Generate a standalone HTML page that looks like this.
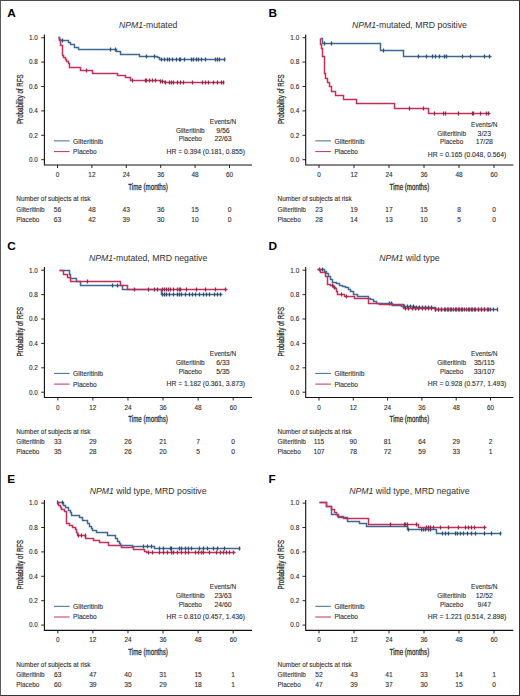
<!DOCTYPE html>
<html><head><meta charset="utf-8"><style>
html,body{margin:0;padding:0;background:#fff;}
body{width:520px;height:696px;overflow:hidden;position:relative;}
svg{position:absolute;left:0;top:0;font-family:"Liberation Sans",sans-serif;}
text{stroke:#333;stroke-width:0.1;}
text.hv{stroke-width:0.3;}
text.lt{stroke:none;}
.frame{position:absolute;left:0;top:0;width:520px;height:696px;box-sizing:border-box;border-top:1px solid #4a4a4a;border-left:1px solid #5a5a5a;border-right:1px solid #333;border-bottom:1px solid #333;}
</style></head><body>
<svg width="520" height="696" viewBox="0 0 520 696">
<rect x="0" y="0" width="520" height="696" fill="#fff"/>
<text x="7.20" y="17.40" font-size="11.8" text-anchor="start" font-weight="bold" class="lt" fill="#000">A</text>
<text x="148.10" y="28.40" font-size="8.7" text-anchor="middle" class="lt" fill="#303030"><tspan font-style="italic">NPM1</tspan>-mutated</text>
<text transform="translate(22.90,99.20) rotate(-90)" font-size="8.2" text-anchor="middle" textLength="49.6" lengthAdjust="spacingAndGlyphs" class="hv" fill="#2a2a2a">Probability of RFS</text>
<path d="M44.40,34.50 V165.00 H252.00" fill="none" stroke="#111" stroke-width="1.1"/>
<text x="37.90" y="162.00" font-size="6.4" text-anchor="end" fill="#2a2a2a">0.0</text>
<text x="37.90" y="137.60" font-size="6.4" text-anchor="end" fill="#2a2a2a">0.2</text>
<text x="37.90" y="113.20" font-size="6.4" text-anchor="end" fill="#2a2a2a">0.4</text>
<text x="37.90" y="88.80" font-size="6.4" text-anchor="end" fill="#2a2a2a">0.6</text>
<text x="37.90" y="64.40" font-size="6.4" text-anchor="end" fill="#2a2a2a">0.8</text>
<text x="37.90" y="40.00" font-size="6.4" text-anchor="end" fill="#2a2a2a">1.0</text>
<text x="57.50" y="177.00" font-size="6.4" text-anchor="middle" fill="#2a2a2a">0</text>
<text x="91.90" y="177.00" font-size="6.4" text-anchor="middle" fill="#2a2a2a">12</text>
<text x="126.30" y="177.00" font-size="6.4" text-anchor="middle" fill="#2a2a2a">24</text>
<text x="160.70" y="177.00" font-size="6.4" text-anchor="middle" fill="#2a2a2a">36</text>
<text x="195.10" y="177.00" font-size="6.4" text-anchor="middle" fill="#2a2a2a">48</text>
<text x="229.50" y="177.00" font-size="6.4" text-anchor="middle" fill="#2a2a2a">60</text>
<path d="M41.20,159.70 H44.40 M41.20,135.30 H44.40 M41.20,110.90 H44.40 M41.20,86.50 H44.40 M41.20,62.10 H44.40 M41.20,37.70 H44.40 M57.50,165.00 V168.00 M91.90,165.00 V168.00 M126.30,165.00 V168.00 M160.70,165.00 V168.00 M195.10,165.00 V168.00 M229.50,165.00 V168.00 " fill="none" stroke="#111" stroke-width="0.9"/>
<text x="148.10" y="189.80" font-size="8.7" text-anchor="middle" textLength="39.6" lengthAdjust="spacingAndGlyphs" class="hv" fill="#2a2a2a">Time (months)</text>
<path d="M54.00,140.90 H69.60" stroke="#3d6894" stroke-width="1"/>
<path d="M54.00,151.60 H69.60" stroke="#c2305a" stroke-width="1"/>
<text x="73.10" y="143.50" font-size="6.9" text-anchor="start" textLength="30.0" lengthAdjust="spacingAndGlyphs" fill="#2a2a2a">Gilteritinib</text>
<text x="73.10" y="154.00" font-size="6.9" text-anchor="start" textLength="23.6" lengthAdjust="spacingAndGlyphs" fill="#2a2a2a">Placebo</text>
<text x="223.00" y="123.70" font-size="6.9" text-anchor="middle" textLength="26.4" lengthAdjust="spacingAndGlyphs" fill="#2a2a2a">Events/N</text>
<text x="190.30" y="132.70" font-size="6.9" text-anchor="middle" textLength="28.8" lengthAdjust="spacingAndGlyphs" fill="#2a2a2a">Gilteritinib</text>
<text x="190.30" y="141.40" font-size="6.9" text-anchor="middle" textLength="23.2" lengthAdjust="spacingAndGlyphs" fill="#2a2a2a">Placebo</text>
<text x="223.00" y="132.70" font-size="6.9" text-anchor="middle" fill="#2a2a2a">9/56</text>
<text x="223.00" y="141.40" font-size="6.9" text-anchor="middle" fill="#2a2a2a">22/63</text>
<text x="205.80" y="153.50" font-size="6.9" text-anchor="middle" textLength="78.5" lengthAdjust="spacingAndGlyphs" fill="#2a2a2a">HR = 0.394 (0.181, 0.855)</text>
<text x="16.30" y="201.20" font-size="6.7" text-anchor="start" textLength="74.1" lengthAdjust="spacingAndGlyphs" fill="#2a2a2a">Number of subjects at risk</text>
<text x="16.30" y="211.60" font-size="6.7" text-anchor="start" textLength="28.3" lengthAdjust="spacingAndGlyphs" fill="#2a2a2a">Gilteritinib</text>
<text x="16.30" y="221.80" font-size="6.7" text-anchor="start" textLength="23.1" lengthAdjust="spacingAndGlyphs" fill="#2a2a2a">Placebo</text>
<text x="57.50" y="211.60" font-size="6.7" text-anchor="middle" fill="#2a2a2a">56</text>
<text x="57.50" y="221.80" font-size="6.7" text-anchor="middle" fill="#2a2a2a">63</text>
<text x="91.90" y="211.60" font-size="6.7" text-anchor="middle" fill="#2a2a2a">48</text>
<text x="91.90" y="221.80" font-size="6.7" text-anchor="middle" fill="#2a2a2a">42</text>
<text x="126.30" y="211.60" font-size="6.7" text-anchor="middle" fill="#2a2a2a">43</text>
<text x="126.30" y="221.80" font-size="6.7" text-anchor="middle" fill="#2a2a2a">39</text>
<text x="160.70" y="211.60" font-size="6.7" text-anchor="middle" fill="#2a2a2a">36</text>
<text x="160.70" y="221.80" font-size="6.7" text-anchor="middle" fill="#2a2a2a">30</text>
<text x="195.10" y="211.60" font-size="6.7" text-anchor="middle" fill="#2a2a2a">15</text>
<text x="195.10" y="221.80" font-size="6.7" text-anchor="middle" fill="#2a2a2a">10</text>
<text x="229.50" y="211.60" font-size="6.7" text-anchor="middle" fill="#2a2a2a">0</text>
<text x="229.50" y="221.80" font-size="6.7" text-anchor="middle" fill="#2a2a2a">0</text>
<text x="268.50" y="17.40" font-size="11.8" text-anchor="start" font-weight="bold" class="lt" fill="#000">B</text>
<text x="409.40" y="28.40" font-size="8.7" text-anchor="middle" class="lt" fill="#303030"><tspan font-style="italic">NPM1</tspan>-mutated, MRD positive</text>
<text transform="translate(284.20,99.20) rotate(-90)" font-size="8.2" text-anchor="middle" textLength="49.6" lengthAdjust="spacingAndGlyphs" class="hv" fill="#2a2a2a">Probability of RFS</text>
<path d="M305.70,34.50 V165.00 H513.30" fill="none" stroke="#111" stroke-width="1.1"/>
<text x="299.20" y="162.00" font-size="6.4" text-anchor="end" fill="#2a2a2a">0.0</text>
<text x="299.20" y="137.60" font-size="6.4" text-anchor="end" fill="#2a2a2a">0.2</text>
<text x="299.20" y="113.20" font-size="6.4" text-anchor="end" fill="#2a2a2a">0.4</text>
<text x="299.20" y="88.80" font-size="6.4" text-anchor="end" fill="#2a2a2a">0.6</text>
<text x="299.20" y="64.40" font-size="6.4" text-anchor="end" fill="#2a2a2a">0.8</text>
<text x="299.20" y="40.00" font-size="6.4" text-anchor="end" fill="#2a2a2a">1.0</text>
<text x="319.00" y="177.00" font-size="6.4" text-anchor="middle" fill="#2a2a2a">0</text>
<text x="354.00" y="177.00" font-size="6.4" text-anchor="middle" fill="#2a2a2a">12</text>
<text x="389.00" y="177.00" font-size="6.4" text-anchor="middle" fill="#2a2a2a">24</text>
<text x="424.00" y="177.00" font-size="6.4" text-anchor="middle" fill="#2a2a2a">36</text>
<text x="459.00" y="177.00" font-size="6.4" text-anchor="middle" fill="#2a2a2a">48</text>
<text x="494.00" y="177.00" font-size="6.4" text-anchor="middle" fill="#2a2a2a">60</text>
<path d="M302.50,159.70 H305.70 M302.50,135.30 H305.70 M302.50,110.90 H305.70 M302.50,86.50 H305.70 M302.50,62.10 H305.70 M302.50,37.70 H305.70 M319.00,165.00 V168.00 M354.00,165.00 V168.00 M389.00,165.00 V168.00 M424.00,165.00 V168.00 M459.00,165.00 V168.00 M494.00,165.00 V168.00 " fill="none" stroke="#111" stroke-width="0.9"/>
<text x="409.40" y="189.80" font-size="8.7" text-anchor="middle" textLength="39.6" lengthAdjust="spacingAndGlyphs" class="hv" fill="#2a2a2a">Time (months)</text>
<path d="M315.30,140.90 H330.90" stroke="#3d6894" stroke-width="1"/>
<path d="M315.30,151.60 H330.90" stroke="#c2305a" stroke-width="1"/>
<text x="334.40" y="143.50" font-size="6.9" text-anchor="start" textLength="30.0" lengthAdjust="spacingAndGlyphs" fill="#2a2a2a">Gilteritinib</text>
<text x="334.40" y="154.00" font-size="6.9" text-anchor="start" textLength="23.6" lengthAdjust="spacingAndGlyphs" fill="#2a2a2a">Placebo</text>
<text x="484.30" y="126.70" font-size="6.9" text-anchor="middle" textLength="26.4" lengthAdjust="spacingAndGlyphs" fill="#2a2a2a">Events/N</text>
<text x="451.60" y="135.70" font-size="6.9" text-anchor="middle" textLength="28.8" lengthAdjust="spacingAndGlyphs" fill="#2a2a2a">Gilteritinib</text>
<text x="451.60" y="144.40" font-size="6.9" text-anchor="middle" textLength="23.2" lengthAdjust="spacingAndGlyphs" fill="#2a2a2a">Placebo</text>
<text x="484.30" y="135.70" font-size="6.9" text-anchor="middle" fill="#2a2a2a">3/23</text>
<text x="484.30" y="144.40" font-size="6.9" text-anchor="middle" fill="#2a2a2a">17/28</text>
<text x="467.10" y="156.50" font-size="6.9" text-anchor="middle" textLength="78.5" lengthAdjust="spacingAndGlyphs" fill="#2a2a2a">HR = 0.165 (0.048, 0.564)</text>
<text x="277.60" y="201.20" font-size="6.7" text-anchor="start" textLength="74.1" lengthAdjust="spacingAndGlyphs" fill="#2a2a2a">Number of subjects at risk</text>
<text x="277.60" y="211.60" font-size="6.7" text-anchor="start" textLength="28.3" lengthAdjust="spacingAndGlyphs" fill="#2a2a2a">Gilteritinib</text>
<text x="277.60" y="221.80" font-size="6.7" text-anchor="start" textLength="23.1" lengthAdjust="spacingAndGlyphs" fill="#2a2a2a">Placebo</text>
<text x="319.00" y="211.60" font-size="6.7" text-anchor="middle" fill="#2a2a2a">23</text>
<text x="319.00" y="221.80" font-size="6.7" text-anchor="middle" fill="#2a2a2a">28</text>
<text x="354.00" y="211.60" font-size="6.7" text-anchor="middle" fill="#2a2a2a">19</text>
<text x="354.00" y="221.80" font-size="6.7" text-anchor="middle" fill="#2a2a2a">14</text>
<text x="389.00" y="211.60" font-size="6.7" text-anchor="middle" fill="#2a2a2a">17</text>
<text x="389.00" y="221.80" font-size="6.7" text-anchor="middle" fill="#2a2a2a">13</text>
<text x="424.00" y="211.60" font-size="6.7" text-anchor="middle" fill="#2a2a2a">15</text>
<text x="424.00" y="221.80" font-size="6.7" text-anchor="middle" fill="#2a2a2a">10</text>
<text x="459.00" y="211.60" font-size="6.7" text-anchor="middle" fill="#2a2a2a">8</text>
<text x="459.00" y="221.80" font-size="6.7" text-anchor="middle" fill="#2a2a2a">5</text>
<text x="494.00" y="211.60" font-size="6.7" text-anchor="middle" fill="#2a2a2a">0</text>
<text x="494.00" y="221.80" font-size="6.7" text-anchor="middle" fill="#2a2a2a">0</text>
<text x="7.20" y="249.90" font-size="11.8" text-anchor="start" font-weight="bold" class="lt" fill="#000">C</text>
<text x="148.10" y="260.90" font-size="8.7" text-anchor="middle" class="lt" fill="#303030"><tspan font-style="italic">NPM1</tspan>-mutated, MRD negative</text>
<text transform="translate(22.90,331.70) rotate(-90)" font-size="8.2" text-anchor="middle" textLength="49.6" lengthAdjust="spacingAndGlyphs" class="hv" fill="#2a2a2a">Probability of RFS</text>
<path d="M44.40,267.00 V397.50 H252.00" fill="none" stroke="#111" stroke-width="1.1"/>
<text x="37.90" y="394.50" font-size="6.4" text-anchor="end" fill="#2a2a2a">0.0</text>
<text x="37.90" y="370.10" font-size="6.4" text-anchor="end" fill="#2a2a2a">0.2</text>
<text x="37.90" y="345.70" font-size="6.4" text-anchor="end" fill="#2a2a2a">0.4</text>
<text x="37.90" y="321.30" font-size="6.4" text-anchor="end" fill="#2a2a2a">0.6</text>
<text x="37.90" y="296.90" font-size="6.4" text-anchor="end" fill="#2a2a2a">0.8</text>
<text x="37.90" y="272.50" font-size="6.4" text-anchor="end" fill="#2a2a2a">1.0</text>
<text x="57.80" y="409.50" font-size="6.4" text-anchor="middle" fill="#2a2a2a">0</text>
<text x="92.88" y="409.50" font-size="6.4" text-anchor="middle" fill="#2a2a2a">12</text>
<text x="127.96" y="409.50" font-size="6.4" text-anchor="middle" fill="#2a2a2a">24</text>
<text x="163.04" y="409.50" font-size="6.4" text-anchor="middle" fill="#2a2a2a">36</text>
<text x="198.12" y="409.50" font-size="6.4" text-anchor="middle" fill="#2a2a2a">48</text>
<text x="233.20" y="409.50" font-size="6.4" text-anchor="middle" fill="#2a2a2a">60</text>
<path d="M41.20,392.20 H44.40 M41.20,367.80 H44.40 M41.20,343.40 H44.40 M41.20,319.00 H44.40 M41.20,294.60 H44.40 M41.20,270.20 H44.40 M57.80,397.50 V400.50 M92.88,397.50 V400.50 M127.96,397.50 V400.50 M163.04,397.50 V400.50 M198.12,397.50 V400.50 M233.20,397.50 V400.50 " fill="none" stroke="#111" stroke-width="0.9"/>
<text x="148.10" y="422.30" font-size="8.7" text-anchor="middle" textLength="39.6" lengthAdjust="spacingAndGlyphs" class="hv" fill="#2a2a2a">Time (months)</text>
<path d="M54.00,373.40 H69.60" stroke="#3d6894" stroke-width="1"/>
<path d="M54.00,384.10 H69.60" stroke="#c2305a" stroke-width="1"/>
<text x="73.10" y="376.00" font-size="6.9" text-anchor="start" textLength="30.0" lengthAdjust="spacingAndGlyphs" fill="#2a2a2a">Gilteritinib</text>
<text x="73.10" y="386.50" font-size="6.9" text-anchor="start" textLength="23.6" lengthAdjust="spacingAndGlyphs" fill="#2a2a2a">Placebo</text>
<text x="223.00" y="356.20" font-size="6.9" text-anchor="middle" textLength="26.4" lengthAdjust="spacingAndGlyphs" fill="#2a2a2a">Events/N</text>
<text x="190.30" y="365.20" font-size="6.9" text-anchor="middle" textLength="28.8" lengthAdjust="spacingAndGlyphs" fill="#2a2a2a">Gilteritinib</text>
<text x="190.30" y="373.90" font-size="6.9" text-anchor="middle" textLength="23.2" lengthAdjust="spacingAndGlyphs" fill="#2a2a2a">Placebo</text>
<text x="223.00" y="365.20" font-size="6.9" text-anchor="middle" fill="#2a2a2a">6/33</text>
<text x="223.00" y="373.90" font-size="6.9" text-anchor="middle" fill="#2a2a2a">5/35</text>
<text x="205.80" y="386.00" font-size="6.9" text-anchor="middle" textLength="78.5" lengthAdjust="spacingAndGlyphs" fill="#2a2a2a">HR = 1.182 (0.361, 3.873)</text>
<text x="16.30" y="433.70" font-size="6.7" text-anchor="start" textLength="74.1" lengthAdjust="spacingAndGlyphs" fill="#2a2a2a">Number of subjects at risk</text>
<text x="16.30" y="444.10" font-size="6.7" text-anchor="start" textLength="28.3" lengthAdjust="spacingAndGlyphs" fill="#2a2a2a">Gilteritinib</text>
<text x="16.30" y="454.30" font-size="6.7" text-anchor="start" textLength="23.1" lengthAdjust="spacingAndGlyphs" fill="#2a2a2a">Placebo</text>
<text x="57.80" y="444.10" font-size="6.7" text-anchor="middle" fill="#2a2a2a">33</text>
<text x="57.80" y="454.30" font-size="6.7" text-anchor="middle" fill="#2a2a2a">35</text>
<text x="92.88" y="444.10" font-size="6.7" text-anchor="middle" fill="#2a2a2a">29</text>
<text x="92.88" y="454.30" font-size="6.7" text-anchor="middle" fill="#2a2a2a">28</text>
<text x="127.96" y="444.10" font-size="6.7" text-anchor="middle" fill="#2a2a2a">26</text>
<text x="127.96" y="454.30" font-size="6.7" text-anchor="middle" fill="#2a2a2a">26</text>
<text x="163.04" y="444.10" font-size="6.7" text-anchor="middle" fill="#2a2a2a">21</text>
<text x="163.04" y="454.30" font-size="6.7" text-anchor="middle" fill="#2a2a2a">20</text>
<text x="198.12" y="444.10" font-size="6.7" text-anchor="middle" fill="#2a2a2a">7</text>
<text x="198.12" y="454.30" font-size="6.7" text-anchor="middle" fill="#2a2a2a">5</text>
<text x="233.20" y="444.10" font-size="6.7" text-anchor="middle" fill="#2a2a2a">0</text>
<text x="233.20" y="454.30" font-size="6.7" text-anchor="middle" fill="#2a2a2a">0</text>
<text x="268.50" y="249.90" font-size="11.8" text-anchor="start" font-weight="bold" class="lt" fill="#000">D</text>
<text x="409.40" y="260.90" font-size="8.7" text-anchor="middle" class="lt" fill="#303030"><tspan font-style="italic">NPM1</tspan> wild type</text>
<text transform="translate(284.20,331.70) rotate(-90)" font-size="8.2" text-anchor="middle" textLength="49.6" lengthAdjust="spacingAndGlyphs" class="hv" fill="#2a2a2a">Probability of RFS</text>
<path d="M305.70,267.00 V397.50 H513.30" fill="none" stroke="#111" stroke-width="1.1"/>
<text x="299.20" y="394.50" font-size="6.4" text-anchor="end" fill="#2a2a2a">0.0</text>
<text x="299.20" y="370.10" font-size="6.4" text-anchor="end" fill="#2a2a2a">0.2</text>
<text x="299.20" y="345.70" font-size="6.4" text-anchor="end" fill="#2a2a2a">0.4</text>
<text x="299.20" y="321.30" font-size="6.4" text-anchor="end" fill="#2a2a2a">0.6</text>
<text x="299.20" y="296.90" font-size="6.4" text-anchor="end" fill="#2a2a2a">0.8</text>
<text x="299.20" y="272.50" font-size="6.4" text-anchor="end" fill="#2a2a2a">1.0</text>
<text x="319.00" y="409.50" font-size="6.4" text-anchor="middle" fill="#2a2a2a">0</text>
<text x="353.30" y="409.50" font-size="6.4" text-anchor="middle" fill="#2a2a2a">12</text>
<text x="387.60" y="409.50" font-size="6.4" text-anchor="middle" fill="#2a2a2a">24</text>
<text x="421.90" y="409.50" font-size="6.4" text-anchor="middle" fill="#2a2a2a">36</text>
<text x="456.20" y="409.50" font-size="6.4" text-anchor="middle" fill="#2a2a2a">48</text>
<text x="490.50" y="409.50" font-size="6.4" text-anchor="middle" fill="#2a2a2a">60</text>
<path d="M302.50,392.20 H305.70 M302.50,367.80 H305.70 M302.50,343.40 H305.70 M302.50,319.00 H305.70 M302.50,294.60 H305.70 M302.50,270.20 H305.70 M319.00,397.50 V400.50 M353.30,397.50 V400.50 M387.60,397.50 V400.50 M421.90,397.50 V400.50 M456.20,397.50 V400.50 M490.50,397.50 V400.50 " fill="none" stroke="#111" stroke-width="0.9"/>
<text x="409.40" y="422.30" font-size="8.7" text-anchor="middle" textLength="39.6" lengthAdjust="spacingAndGlyphs" class="hv" fill="#2a2a2a">Time (months)</text>
<path d="M315.30,373.40 H330.90" stroke="#3d6894" stroke-width="1"/>
<path d="M315.30,384.10 H330.90" stroke="#c2305a" stroke-width="1"/>
<text x="334.40" y="376.00" font-size="6.9" text-anchor="start" textLength="30.0" lengthAdjust="spacingAndGlyphs" fill="#2a2a2a">Gilteritinib</text>
<text x="334.40" y="386.50" font-size="6.9" text-anchor="start" textLength="23.6" lengthAdjust="spacingAndGlyphs" fill="#2a2a2a">Placebo</text>
<text x="484.30" y="356.20" font-size="6.9" text-anchor="middle" textLength="26.4" lengthAdjust="spacingAndGlyphs" fill="#2a2a2a">Events/N</text>
<text x="451.60" y="365.20" font-size="6.9" text-anchor="middle" textLength="28.8" lengthAdjust="spacingAndGlyphs" fill="#2a2a2a">Gilteritinib</text>
<text x="451.60" y="373.90" font-size="6.9" text-anchor="middle" textLength="23.2" lengthAdjust="spacingAndGlyphs" fill="#2a2a2a">Placebo</text>
<text x="484.30" y="365.20" font-size="6.9" text-anchor="middle" fill="#2a2a2a">35/115</text>
<text x="484.30" y="373.90" font-size="6.9" text-anchor="middle" fill="#2a2a2a">33/107</text>
<text x="467.10" y="386.00" font-size="6.9" text-anchor="middle" textLength="78.5" lengthAdjust="spacingAndGlyphs" fill="#2a2a2a">HR = 0.928 (0.577, 1.493)</text>
<text x="277.60" y="433.70" font-size="6.7" text-anchor="start" textLength="74.1" lengthAdjust="spacingAndGlyphs" fill="#2a2a2a">Number of subjects at risk</text>
<text x="277.60" y="444.10" font-size="6.7" text-anchor="start" textLength="28.3" lengthAdjust="spacingAndGlyphs" fill="#2a2a2a">Gilteritinib</text>
<text x="277.60" y="454.30" font-size="6.7" text-anchor="start" textLength="23.1" lengthAdjust="spacingAndGlyphs" fill="#2a2a2a">Placebo</text>
<text x="319.00" y="444.10" font-size="6.7" text-anchor="middle" fill="#2a2a2a">115</text>
<text x="319.00" y="454.30" font-size="6.7" text-anchor="middle" fill="#2a2a2a">107</text>
<text x="353.30" y="444.10" font-size="6.7" text-anchor="middle" fill="#2a2a2a">90</text>
<text x="353.30" y="454.30" font-size="6.7" text-anchor="middle" fill="#2a2a2a">78</text>
<text x="387.60" y="444.10" font-size="6.7" text-anchor="middle" fill="#2a2a2a">81</text>
<text x="387.60" y="454.30" font-size="6.7" text-anchor="middle" fill="#2a2a2a">72</text>
<text x="421.90" y="444.10" font-size="6.7" text-anchor="middle" fill="#2a2a2a">64</text>
<text x="421.90" y="454.30" font-size="6.7" text-anchor="middle" fill="#2a2a2a">59</text>
<text x="456.20" y="444.10" font-size="6.7" text-anchor="middle" fill="#2a2a2a">29</text>
<text x="456.20" y="454.30" font-size="6.7" text-anchor="middle" fill="#2a2a2a">33</text>
<text x="490.50" y="444.10" font-size="6.7" text-anchor="middle" fill="#2a2a2a">2</text>
<text x="490.50" y="454.30" font-size="6.7" text-anchor="middle" fill="#2a2a2a">1</text>
<text x="7.20" y="482.80" font-size="11.8" text-anchor="start" font-weight="bold" class="lt" fill="#000">E</text>
<text x="148.10" y="493.80" font-size="8.7" text-anchor="middle" class="lt" fill="#303030"><tspan font-style="italic">NPM1</tspan> wild type, MRD positive</text>
<text transform="translate(22.90,564.60) rotate(-90)" font-size="8.2" text-anchor="middle" textLength="49.6" lengthAdjust="spacingAndGlyphs" class="hv" fill="#2a2a2a">Probability of RFS</text>
<path d="M44.40,499.90 V630.40 H252.00" fill="none" stroke="#111" stroke-width="1.1"/>
<text x="37.90" y="627.40" font-size="6.4" text-anchor="end" fill="#2a2a2a">0.0</text>
<text x="37.90" y="603.00" font-size="6.4" text-anchor="end" fill="#2a2a2a">0.2</text>
<text x="37.90" y="578.60" font-size="6.4" text-anchor="end" fill="#2a2a2a">0.4</text>
<text x="37.90" y="554.20" font-size="6.4" text-anchor="end" fill="#2a2a2a">0.6</text>
<text x="37.90" y="529.80" font-size="6.4" text-anchor="end" fill="#2a2a2a">0.8</text>
<text x="37.90" y="505.40" font-size="6.4" text-anchor="end" fill="#2a2a2a">1.0</text>
<text x="57.80" y="642.40" font-size="6.4" text-anchor="middle" fill="#2a2a2a">0</text>
<text x="92.88" y="642.40" font-size="6.4" text-anchor="middle" fill="#2a2a2a">12</text>
<text x="127.96" y="642.40" font-size="6.4" text-anchor="middle" fill="#2a2a2a">24</text>
<text x="163.04" y="642.40" font-size="6.4" text-anchor="middle" fill="#2a2a2a">36</text>
<text x="198.12" y="642.40" font-size="6.4" text-anchor="middle" fill="#2a2a2a">48</text>
<text x="233.20" y="642.40" font-size="6.4" text-anchor="middle" fill="#2a2a2a">60</text>
<path d="M41.20,625.10 H44.40 M41.20,600.70 H44.40 M41.20,576.30 H44.40 M41.20,551.90 H44.40 M41.20,527.50 H44.40 M41.20,503.10 H44.40 M57.80,630.40 V633.40 M92.88,630.40 V633.40 M127.96,630.40 V633.40 M163.04,630.40 V633.40 M198.12,630.40 V633.40 M233.20,630.40 V633.40 " fill="none" stroke="#111" stroke-width="0.9"/>
<text x="148.10" y="655.20" font-size="8.7" text-anchor="middle" textLength="39.6" lengthAdjust="spacingAndGlyphs" class="hv" fill="#2a2a2a">Time (months)</text>
<path d="M54.00,606.30 H69.60" stroke="#3d6894" stroke-width="1"/>
<path d="M54.00,617.00 H69.60" stroke="#c2305a" stroke-width="1"/>
<text x="73.10" y="608.90" font-size="6.9" text-anchor="start" textLength="30.0" lengthAdjust="spacingAndGlyphs" fill="#2a2a2a">Gilteritinib</text>
<text x="73.10" y="619.40" font-size="6.9" text-anchor="start" textLength="23.6" lengthAdjust="spacingAndGlyphs" fill="#2a2a2a">Placebo</text>
<text x="223.00" y="589.10" font-size="6.9" text-anchor="middle" textLength="26.4" lengthAdjust="spacingAndGlyphs" fill="#2a2a2a">Events/N</text>
<text x="190.30" y="598.10" font-size="6.9" text-anchor="middle" textLength="28.8" lengthAdjust="spacingAndGlyphs" fill="#2a2a2a">Gilteritinib</text>
<text x="190.30" y="606.80" font-size="6.9" text-anchor="middle" textLength="23.2" lengthAdjust="spacingAndGlyphs" fill="#2a2a2a">Placebo</text>
<text x="223.00" y="598.10" font-size="6.9" text-anchor="middle" fill="#2a2a2a">23/63</text>
<text x="223.00" y="606.80" font-size="6.9" text-anchor="middle" fill="#2a2a2a">24/60</text>
<text x="205.80" y="618.90" font-size="6.9" text-anchor="middle" textLength="78.5" lengthAdjust="spacingAndGlyphs" fill="#2a2a2a">HR = 0.810 (0.457, 1.436)</text>
<text x="16.30" y="666.60" font-size="6.7" text-anchor="start" textLength="74.1" lengthAdjust="spacingAndGlyphs" fill="#2a2a2a">Number of subjects at risk</text>
<text x="16.30" y="677.00" font-size="6.7" text-anchor="start" textLength="28.3" lengthAdjust="spacingAndGlyphs" fill="#2a2a2a">Gilteritinib</text>
<text x="16.30" y="687.20" font-size="6.7" text-anchor="start" textLength="23.1" lengthAdjust="spacingAndGlyphs" fill="#2a2a2a">Placebo</text>
<text x="57.80" y="677.00" font-size="6.7" text-anchor="middle" fill="#2a2a2a">63</text>
<text x="57.80" y="687.20" font-size="6.7" text-anchor="middle" fill="#2a2a2a">60</text>
<text x="92.88" y="677.00" font-size="6.7" text-anchor="middle" fill="#2a2a2a">47</text>
<text x="92.88" y="687.20" font-size="6.7" text-anchor="middle" fill="#2a2a2a">39</text>
<text x="127.96" y="677.00" font-size="6.7" text-anchor="middle" fill="#2a2a2a">40</text>
<text x="127.96" y="687.20" font-size="6.7" text-anchor="middle" fill="#2a2a2a">35</text>
<text x="163.04" y="677.00" font-size="6.7" text-anchor="middle" fill="#2a2a2a">31</text>
<text x="163.04" y="687.20" font-size="6.7" text-anchor="middle" fill="#2a2a2a">29</text>
<text x="198.12" y="677.00" font-size="6.7" text-anchor="middle" fill="#2a2a2a">15</text>
<text x="198.12" y="687.20" font-size="6.7" text-anchor="middle" fill="#2a2a2a">18</text>
<text x="233.20" y="677.00" font-size="6.7" text-anchor="middle" fill="#2a2a2a">1</text>
<text x="233.20" y="687.20" font-size="6.7" text-anchor="middle" fill="#2a2a2a">1</text>
<text x="268.50" y="482.80" font-size="11.8" text-anchor="start" font-weight="bold" class="lt" fill="#000">F</text>
<text x="409.40" y="493.80" font-size="8.7" text-anchor="middle" class="lt" fill="#303030"><tspan font-style="italic">NPM1</tspan> wild type, MRD negative</text>
<text transform="translate(284.20,564.60) rotate(-90)" font-size="8.2" text-anchor="middle" textLength="49.6" lengthAdjust="spacingAndGlyphs" class="hv" fill="#2a2a2a">Probability of RFS</text>
<path d="M305.70,499.90 V630.40 H513.30" fill="none" stroke="#111" stroke-width="1.1"/>
<text x="299.20" y="627.40" font-size="6.4" text-anchor="end" fill="#2a2a2a">0.0</text>
<text x="299.20" y="603.00" font-size="6.4" text-anchor="end" fill="#2a2a2a">0.2</text>
<text x="299.20" y="578.60" font-size="6.4" text-anchor="end" fill="#2a2a2a">0.4</text>
<text x="299.20" y="554.20" font-size="6.4" text-anchor="end" fill="#2a2a2a">0.6</text>
<text x="299.20" y="529.80" font-size="6.4" text-anchor="end" fill="#2a2a2a">0.8</text>
<text x="299.20" y="505.40" font-size="6.4" text-anchor="end" fill="#2a2a2a">1.0</text>
<text x="319.00" y="642.40" font-size="6.4" text-anchor="middle" fill="#2a2a2a">0</text>
<text x="354.00" y="642.40" font-size="6.4" text-anchor="middle" fill="#2a2a2a">12</text>
<text x="389.00" y="642.40" font-size="6.4" text-anchor="middle" fill="#2a2a2a">24</text>
<text x="424.00" y="642.40" font-size="6.4" text-anchor="middle" fill="#2a2a2a">36</text>
<text x="459.00" y="642.40" font-size="6.4" text-anchor="middle" fill="#2a2a2a">48</text>
<text x="494.00" y="642.40" font-size="6.4" text-anchor="middle" fill="#2a2a2a">60</text>
<path d="M302.50,625.10 H305.70 M302.50,600.70 H305.70 M302.50,576.30 H305.70 M302.50,551.90 H305.70 M302.50,527.50 H305.70 M302.50,503.10 H305.70 M319.00,630.40 V633.40 M354.00,630.40 V633.40 M389.00,630.40 V633.40 M424.00,630.40 V633.40 M459.00,630.40 V633.40 M494.00,630.40 V633.40 " fill="none" stroke="#111" stroke-width="0.9"/>
<text x="409.40" y="655.20" font-size="8.7" text-anchor="middle" textLength="39.6" lengthAdjust="spacingAndGlyphs" class="hv" fill="#2a2a2a">Time (months)</text>
<path d="M315.30,606.30 H330.90" stroke="#3d6894" stroke-width="1"/>
<path d="M315.30,617.00 H330.90" stroke="#c2305a" stroke-width="1"/>
<text x="334.40" y="608.90" font-size="6.9" text-anchor="start" textLength="30.0" lengthAdjust="spacingAndGlyphs" fill="#2a2a2a">Gilteritinib</text>
<text x="334.40" y="619.40" font-size="6.9" text-anchor="start" textLength="23.6" lengthAdjust="spacingAndGlyphs" fill="#2a2a2a">Placebo</text>
<text x="484.30" y="589.10" font-size="6.9" text-anchor="middle" textLength="26.4" lengthAdjust="spacingAndGlyphs" fill="#2a2a2a">Events/N</text>
<text x="451.60" y="598.10" font-size="6.9" text-anchor="middle" textLength="28.8" lengthAdjust="spacingAndGlyphs" fill="#2a2a2a">Gilteritinib</text>
<text x="451.60" y="606.80" font-size="6.9" text-anchor="middle" textLength="23.2" lengthAdjust="spacingAndGlyphs" fill="#2a2a2a">Placebo</text>
<text x="484.30" y="598.10" font-size="6.9" text-anchor="middle" fill="#2a2a2a">12/52</text>
<text x="484.30" y="606.80" font-size="6.9" text-anchor="middle" fill="#2a2a2a">9/47</text>
<text x="467.10" y="618.90" font-size="6.9" text-anchor="middle" textLength="78.5" lengthAdjust="spacingAndGlyphs" fill="#2a2a2a">HR = 1.221 (0.514, 2.898)</text>
<text x="277.60" y="666.60" font-size="6.7" text-anchor="start" textLength="74.1" lengthAdjust="spacingAndGlyphs" fill="#2a2a2a">Number of subjects at risk</text>
<text x="277.60" y="677.00" font-size="6.7" text-anchor="start" textLength="28.3" lengthAdjust="spacingAndGlyphs" fill="#2a2a2a">Gilteritinib</text>
<text x="277.60" y="687.20" font-size="6.7" text-anchor="start" textLength="23.1" lengthAdjust="spacingAndGlyphs" fill="#2a2a2a">Placebo</text>
<text x="319.00" y="677.00" font-size="6.7" text-anchor="middle" fill="#2a2a2a">52</text>
<text x="319.00" y="687.20" font-size="6.7" text-anchor="middle" fill="#2a2a2a">47</text>
<text x="354.00" y="677.00" font-size="6.7" text-anchor="middle" fill="#2a2a2a">43</text>
<text x="354.00" y="687.20" font-size="6.7" text-anchor="middle" fill="#2a2a2a">39</text>
<text x="389.00" y="677.00" font-size="6.7" text-anchor="middle" fill="#2a2a2a">41</text>
<text x="389.00" y="687.20" font-size="6.7" text-anchor="middle" fill="#2a2a2a">37</text>
<text x="424.00" y="677.00" font-size="6.7" text-anchor="middle" fill="#2a2a2a">33</text>
<text x="424.00" y="687.20" font-size="6.7" text-anchor="middle" fill="#2a2a2a">30</text>
<text x="459.00" y="677.00" font-size="6.7" text-anchor="middle" fill="#2a2a2a">14</text>
<text x="459.00" y="687.20" font-size="6.7" text-anchor="middle" fill="#2a2a2a">15</text>
<text x="494.00" y="677.00" font-size="6.7" text-anchor="middle" fill="#2a2a2a">1</text>
<text x="494.00" y="687.20" font-size="6.7" text-anchor="middle" fill="#2a2a2a">0</text>
<path d="M58.5,37.5 H59.5 V39.5 H60.5 V40.5 H68.5 V42.5 H70.5 V44.5 H74.5 V47.5 H78.5 V49.5 H116.5 V51.5 H120.5 V54.5 H139.5 V56.5 H157.5 V57.5 H159.5 V59.5 H225.5" fill="none" stroke="#3d6894" stroke-width="1.5"/>
<path d="M62.5,38.5 V42.5 M110.5,47.5 V51.5 M115.5,47.5 V51.5 M146.5,54.5 V58.5 M154.5,54.5 V58.5 M161.5,57.5 V61.5 M164.5,57.5 V61.5 M167.5,57.5 V61.5 M169.5,57.5 V61.5 M172.5,57.5 V61.5 M176.5,57.5 V61.5 M179.5,57.5 V61.5 M180.5,57.5 V61.5 M184.5,57.5 V61.5 M191.5,57.5 V61.5 M193.5,57.5 V61.5 M196.5,57.5 V61.5 M198.5,57.5 V61.5 M201.5,57.5 V61.5 M205.5,57.5 V61.5 M215.5,57.5 V61.5 M217.5,57.5 V61.5 M219.5,57.5 V61.5 M224.5,57.5 V61.5 " fill="none" stroke="#2e4f70" stroke-width="1.3"/>
<path d="M58.5,37.5 H59.5 V40.5 H60.5 V45.5 H62.5 V55.5 H63.5 V57.5 H65.5 V59.5 H66.5 V61.5 H68.5 V63.5 H69.5 V67.5 H80.5 V70.5 H92.5 V73.5 H117.5 V75.5 H125.5 V77.5 H130.5 V80.5 H160.5 V81.5 H164.5 V82.5 H224.5" fill="none" stroke="#c2305a" stroke-width="1.5"/>
<path d="M86.5,68.5 V72.5 M132.5,78.5 V82.5 M146.5,78.5 V82.5 M145.5,78.5 V82.5 M149.5,78.5 V82.5 M152.5,78.5 V82.5 M155.5,78.5 V82.5 M160.5,79.5 V83.5 M162.5,79.5 V83.5 M165.5,80.5 V84.5 M169.5,80.5 V84.5 M171.5,80.5 V84.5 M173.5,80.5 V84.5 M177.5,80.5 V84.5 M180.5,80.5 V84.5 M183.5,80.5 V84.5 M192.5,80.5 V84.5 M202.5,80.5 V84.5 M205.5,80.5 V84.5 M208.5,80.5 V84.5 M213.5,80.5 V84.5 M217.5,80.5 V84.5 M221.5,80.5 V84.5 M223.5,80.5 V84.5 " fill="none" stroke="#902a4c" stroke-width="1.3"/>
<path d="M320.5,38.5 H322.5 V43.5 H380.5 V50.5 H403.5 V56.5 H491.5" fill="none" stroke="#3d6894" stroke-width="1.5"/>
<path d="M324.5,41.5 V45.5 M331.5,41.5 V45.5 M383.5,48.5 V52.5 M418.5,54.5 V58.5 M426.5,54.5 V58.5 M432.5,54.5 V58.5 M435.5,54.5 V58.5 M439.5,54.5 V58.5 M444.5,54.5 V58.5 M446.5,54.5 V58.5 M462.5,54.5 V58.5 M470.5,54.5 V58.5 M484.5,54.5 V58.5 M489.5,54.5 V58.5 " fill="none" stroke="#2e4f70" stroke-width="1.3"/>
<path d="M320.5,38.5 H320.5 V44.5 H321.5 V48.5 H322.5 V56.5 H324.5 V73.5 H325.5 V78.5 H327.5 V82.5 H329.5 V86.5 H331.5 V91.5 H335.5 V95.5 H343.5 V99.5 H356.5 V103.5 H394.5 V108.5 H428.5 V113.5 H490.5" fill="none" stroke="#c2305a" stroke-width="1.5"/>
<path d="M409.5,106.5 V110.5 M423.5,106.5 V110.5 M434.5,111.5 V115.5 M443.5,111.5 V115.5 M445.5,111.5 V115.5 M458.5,111.5 V115.5 M472.5,111.5 V115.5 M473.5,111.5 V115.5 M480.5,111.5 V115.5 M486.5,111.5 V115.5 M488.5,111.5 V115.5 " fill="none" stroke="#902a4c" stroke-width="1.3"/>
<path d="M59.5,270.5 H69.5 V274.5 H70.5 V278.5 H76.5 V281.5 H80.5 V285.5 H122.5 V289.5 H161.5 V294.5 H222.5" fill="none" stroke="#3d6894" stroke-width="1.5"/>
<path d="M112.5,283.5 V287.5 M117.5,283.5 V287.5 M162.5,292.5 V296.5 M164.5,292.5 V296.5 M166.5,292.5 V296.5 M169.5,292.5 V296.5 M173.5,292.5 V296.5 M177.5,292.5 V296.5 M179.5,292.5 V296.5 M181.5,292.5 V296.5 M185.5,292.5 V296.5 M189.5,292.5 V296.5 M192.5,292.5 V296.5 M195.5,292.5 V296.5 M199.5,292.5 V296.5 M203.5,292.5 V296.5 M206.5,292.5 V296.5 M209.5,292.5 V296.5 M214.5,292.5 V296.5 M217.5,292.5 V296.5 M220.5,292.5 V296.5 " fill="none" stroke="#2e4f70" stroke-width="1.3"/>
<path d="M59.5,270.5 H63.5 V274.5 H67.5 V277.5 H70.5 V281.5 H120.5 V285.5 H127.5 V289.5 H227.5" fill="none" stroke="#c2305a" stroke-width="1.5"/>
<path d="M87.5,279.5 V283.5 M134.5,287.5 V291.5 M148.5,287.5 V291.5 M154.5,287.5 V291.5 M157.5,287.5 V291.5 M162.5,287.5 V291.5 M164.5,287.5 V291.5 M166.5,287.5 V291.5 M168.5,287.5 V291.5 M170.5,287.5 V291.5 M173.5,287.5 V291.5 M177.5,287.5 V291.5 M179.5,287.5 V291.5 M180.5,287.5 V291.5 M186.5,287.5 V291.5 M196.5,287.5 V291.5 M205.5,287.5 V291.5 M215.5,287.5 V291.5 M225.5,287.5 V291.5 " fill="none" stroke="#902a4c" stroke-width="1.3"/>
<path d="M317.5,269.5 H324.5 V271.5 H326.5 V273.5 H328.5 V276.5 H330.5 V279.5 H332.5 V282.5 H336.5 V283.5 H339.5 V285.5 H342.5 V286.5 H345.5 V287.5 H348.5 V289.5 H350.5 V291.5 H353.5 V294.5 H357.5 V296.5 H368.5 V298.5 H370.5 V299.5 H373.5 V301.5 H376.5 V303.5 H392.5 V305.5 H401.5 V306.5 H414.5 V307.5 H435.5 V309.5 H497.5" fill="none" stroke="#3d6894" stroke-width="1.5"/>
<path d="M319.5,267.5 V271.5 M322.5,267.5 V271.5 M389.5,301.5 V305.5 M391.5,301.5 V305.5 M404.5,304.5 V308.5 M407.5,304.5 V308.5 M410.5,304.5 V308.5 M413.5,304.5 V308.5 M416.5,305.5 V309.5 M419.5,305.5 V309.5 M422.5,305.5 V309.5 M425.5,305.5 V309.5 M428.5,305.5 V309.5 M431.5,305.5 V309.5 M435.5,307.5 V311.5 M438.5,307.5 V311.5 M441.5,307.5 V311.5 M444.5,307.5 V311.5 M447.5,307.5 V311.5 M450.5,307.5 V311.5 M453.5,307.5 V311.5 M456.5,307.5 V311.5 M459.5,307.5 V311.5 M462.5,307.5 V311.5 M466.5,307.5 V311.5 M469.5,307.5 V311.5 M472.5,307.5 V311.5 M475.5,307.5 V311.5 M478.5,307.5 V311.5 M481.5,307.5 V311.5 M484.5,307.5 V311.5 M487.5,307.5 V311.5 M490.5,307.5 V311.5 M493.5,307.5 V311.5 M497.5,307.5 V311.5 " fill="none" stroke="#2e4f70" stroke-width="1.3"/>
<path d="M317.5,269.5 H320.5 V272.5 H325.5 V276.5 H327.5 V284.5 H330.5 V285.5 H333.5 V287.5 H335.5 V288.5 H336.5 V291.5 H337.5 V294.5 H344.5 V296.5 H354.5 V298.5 H368.5 V303.5 H379.5 V304.5 H403.5 V308.5 H435.5 V309.5 H490.5" fill="none" stroke="#c2305a" stroke-width="1.5"/>
<path d="M332.5,283.5 V287.5 M334.5,285.5 V289.5 M341.5,292.5 V296.5 M346.5,294.5 V298.5 M405.5,306.5 V310.5 M408.5,306.5 V310.5 M412.5,306.5 V310.5 M415.5,306.5 V310.5 M418.5,306.5 V310.5 M422.5,306.5 V310.5 M425.5,306.5 V310.5 M428.5,306.5 V310.5 M431.5,306.5 V310.5 M435.5,307.5 V311.5 M438.5,307.5 V311.5 M441.5,307.5 V311.5 M445.5,307.5 V311.5 M448.5,307.5 V311.5 M451.5,307.5 V311.5 M455.5,307.5 V311.5 M458.5,307.5 V311.5 M461.5,307.5 V311.5 M464.5,307.5 V311.5 M468.5,307.5 V311.5 M471.5,307.5 V311.5 M474.5,307.5 V311.5 M478.5,307.5 V311.5 M481.5,307.5 V311.5 M484.5,307.5 V311.5 M488.5,307.5 V311.5 " fill="none" stroke="#902a4c" stroke-width="1.3"/>
<path d="M57.5,502.5 H63.5 V505.5 H65.5 V507.5 H68.5 V510.5 H70.5 V512.5 H71.5 V515.5 H79.5 V517.5 H82.5 V520.5 H87.5 V523.5 H89.5 V526.5 H91.5 V528.5 H92.5 V530.5 H96.5 V532.5 H107.5 V535.5 H115.5 V538.5 H117.5 V541.5 H119.5 V543.5 H120.5 V545.5 H132.5 V546.5 H154.5 V548.5 H240.5" fill="none" stroke="#3d6894" stroke-width="1.5"/>
<path d="M57.5,500.5 V504.5 M62.5,500.5 V504.5 M143.5,544.5 V548.5 M147.5,544.5 V548.5 M151.5,544.5 V548.5 M159.5,546.5 V550.5 M163.5,546.5 V550.5 M170.5,546.5 V550.5 M171.5,546.5 V550.5 M179.5,546.5 V550.5 M181.5,546.5 V550.5 M185.5,546.5 V550.5 M188.5,546.5 V550.5 M191.5,546.5 V550.5 M199.5,546.5 V550.5 M203.5,546.5 V550.5 M207.5,546.5 V550.5 M213.5,546.5 V550.5 M217.5,546.5 V550.5 M224.5,546.5 V550.5 M239.5,546.5 V550.5 " fill="none" stroke="#2e4f70" stroke-width="1.3"/>
<path d="M57.5,502.5 H58.5 V505.5 H60.5 V507.5 H61.5 V509.5 H64.5 V511.5 H66.5 V513.5 H66.5 V523.5 H69.5 V525.5 H72.5 V527.5 H75.5 V529.5 H76.5 V532.5 H77.5 V535.5 H85.5 V538.5 H93.5 V540.5 H99.5 V542.5 H108.5 V545.5 H121.5 V547.5 H133.5 V549.5 H144.5 V551.5 H146.5 V552.5 H235.5" fill="none" stroke="#c2305a" stroke-width="1.5"/>
<path d="M78.5,533.5 V537.5 M81.5,533.5 V537.5 M85.5,533.5 V537.5 M148.5,550.5 V554.5 M152.5,550.5 V554.5 M159.5,550.5 V554.5 M163.5,550.5 V554.5 M167.5,550.5 V554.5 M171.5,550.5 V554.5 M173.5,550.5 V554.5 M177.5,550.5 V554.5 M181.5,550.5 V554.5 M185.5,550.5 V554.5 M188.5,550.5 V554.5 M195.5,550.5 V554.5 M198.5,550.5 V554.5 M201.5,550.5 V554.5 M203.5,550.5 V554.5 M209.5,550.5 V554.5 M216.5,550.5 V554.5 M220.5,550.5 V554.5 M223.5,550.5 V554.5 M226.5,550.5 V554.5 M229.5,550.5 V554.5 M233.5,550.5 V554.5 " fill="none" stroke="#902a4c" stroke-width="1.3"/>
<path d="M319.5,502.5 H326.5 V506.5 H331.5 V514.5 H338.5 V517.5 H347.5 V521.5 H359.5 V523.5 H366.5 V526.5 H407.5 V529.5 H436.5 V533.5 H501.5" fill="none" stroke="#3d6894" stroke-width="1.5"/>
<path d="M408.5,527.5 V531.5 M421.5,527.5 V531.5 M423.5,527.5 V531.5 M425.5,527.5 V531.5 M428.5,527.5 V531.5 M430.5,527.5 V531.5 M442.5,531.5 V535.5 M445.5,531.5 V535.5 M448.5,531.5 V535.5 M455.5,531.5 V535.5 M457.5,531.5 V535.5 M460.5,531.5 V535.5 M463.5,531.5 V535.5 M467.5,531.5 V535.5 M471.5,531.5 V535.5 M475.5,531.5 V535.5 M484.5,531.5 V535.5 M491.5,531.5 V535.5 M500.5,531.5 V535.5 " fill="none" stroke="#2e4f70" stroke-width="1.3"/>
<path d="M319.5,502.5 H326.5 V506.5 H331.5 V509.5 H334.5 V512.5 H336.5 V514.5 H337.5 V516.5 H343.5 V518.5 H347.5 V518.5 H368.5 V524.5 H418.5 V527.5 H486.5" fill="none" stroke="#c2305a" stroke-width="1.5"/>
<path d="M390.5,522.5 V526.5 M405.5,522.5 V526.5 M407.5,522.5 V526.5 M404.5,522.5 V526.5 M416.5,522.5 V526.5 M426.5,525.5 V529.5 M428.5,525.5 V529.5 M430.5,525.5 V529.5 M433.5,525.5 V529.5 M440.5,525.5 V529.5 M448.5,525.5 V529.5 M458.5,525.5 V529.5 M465.5,525.5 V529.5 M468.5,525.5 V529.5 M471.5,525.5 V529.5 M474.5,525.5 V529.5 M484.5,525.5 V529.5 " fill="none" stroke="#902a4c" stroke-width="1.3"/>
</svg>
<div class="frame"></div>
</body></html>
